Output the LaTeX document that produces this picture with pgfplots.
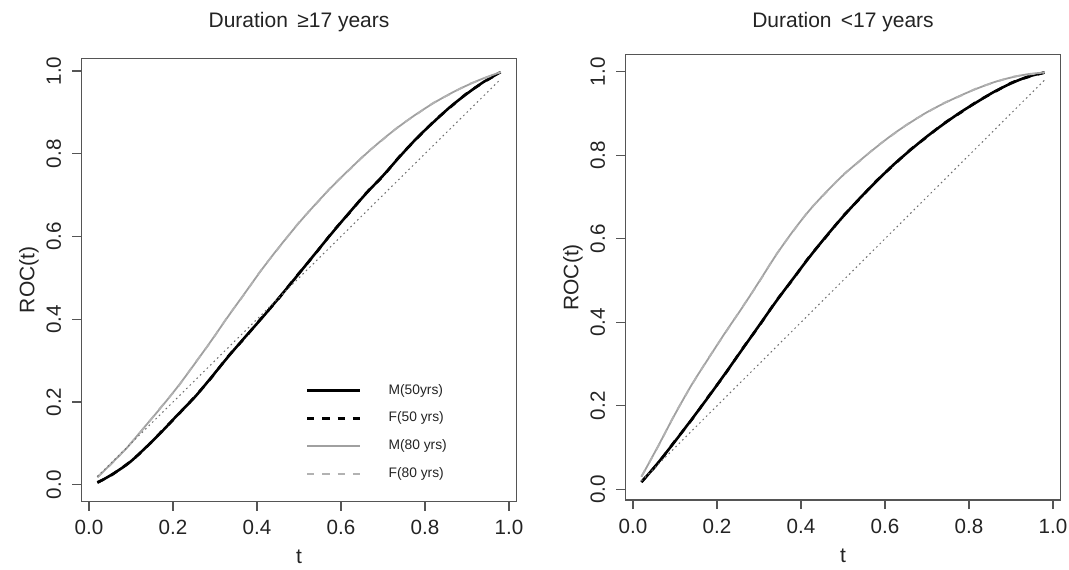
\documentclass[border=0pt]{standalone}
\usepackage{pgfplots}
\pgfplotsset{compat=1.18}
\usepackage{fontspec}
\setmainfont{Liberation Sans}
\definecolor{axcol}{RGB}{85,85,85}
\definecolor{txtcol}{RGB}{35,35,35}
\definecolor{grey80}{RGB}{160,160,160}
\definecolor{greyF80}{RGB}{178,178,178}
\definecolor{dotcol}{RGB}{110,110,110}
\pgfplotsset{
  rplot/.style={
    scale only axis, width=217.7pt,
    xmin=-0.0184, xmax=1.0184,
    axis line style={axcol, line width=0.6pt},
    tick style={axcol, line width=0.6pt},
    tick align=outside, major tick length=4.6pt,
    xtick pos=bottom, ytick pos=left,
    xtick={0,0.2,0.4,0.6,0.8,1}, ytick={0,0.2,0.4,0.6,0.8,1},
    xticklabels={0.0,0.2,0.4,0.6,0.8,1.0},
    yticklabels={0.0,0.2,0.4,0.6,0.8,1.0},
    ticklabel style={font=\fontsize{10.3}{12}\selectfont, text=txtcol},
    xticklabel style={anchor=base}, xticklabel shift=12.1pt,
    yticklabel style={rotate=90, anchor=base}, yticklabel shift=5.6pt,
    xlabel={t}, ylabel={ROC(t)},
    label style={font=\fontsize{10.5}{12}\selectfont, text=txtcol},
    xlabel style={at={(axis description cs:0.5,-0.1396)}, anchor=base},
    ylabel style={at={(axis description cs:-0.108,0.5)}, anchor=base},
    title style={font=\fontsize{10.5}{12}\selectfont, text=txtcol, anchor=base, at={(axis description cs:0.5,1)}},
    m50/.style={black, line width=1.3pt, smooth, tension=0.5},
    f50/.style={black, line width=1.3pt, dash pattern=on 3.6pt off 4pt, smooth, tension=0.5},
    m80/.style={grey80, line width=0.9pt, smooth, tension=0.5},
    f80/.style={greyF80, line width=0.9pt, dash pattern=on 3.6pt off 4pt, smooth, tension=0.5},
    diag/.style={dotcol, line width=0.5pt, dash pattern=on 0.8pt off 1.6pt},
  }
}
\begin{document}
\begin{tikzpicture}
\path[use as bounding box] (0,0) rectangle (534.5pt,284.5pt);
% ---------------- left panel ----------------
\begin{axis}[rplot, at={(40.65pt,33.85pt)}, anchor=south west, height=221.4pt,
  ymin=-0.040, ymax=1.030,
  title={Duration \,≥17 years}, title style={yshift=9.3pt},
  legend style={draw=none, fill=none, at={(0.516,0.281)}, anchor=north west,
    inner sep=0pt, outer sep=0pt, row sep=0pt,
    font=\fontsize{6.9}{8}\selectfont, text=txtcol,
    nodes={inner sep=0pt, minimum height=13.85pt},
    /tikz/every odd column/.append style={column sep=13.5pt}},
  legend image code/.code={\draw[#1] (0pt,0pt) -- (26.5pt,0pt);},
  legend cell align=left]
\addplot[m50] coordinates {(0.02,0.005) (0.05,0.022) (0.093,0.051) (0.13,0.085) (0.172,0.127) (0.21,0.168) (0.252,0.212) (0.29,0.258) (0.331,0.309) (0.37,0.355) (0.41,0.401) (0.45,0.449) (0.49,0.498) (0.538,0.558) (0.58,0.61) (0.621,0.659) (0.66,0.704) (0.701,0.748) (0.74,0.793) (0.78,0.837) (0.82,0.876) (0.86,0.913) (0.9,0.945) (0.939,0.973) (0.98,0.997)};
\addlegendentry{M(50yrs)}
\addplot[f50] coordinates {(0.02,0.006) (0.05,0.021) (0.093,0.052) (0.13,0.084) (0.172,0.128) (0.21,0.167) (0.252,0.213) (0.29,0.257) (0.331,0.310) (0.37,0.354) (0.41,0.402) (0.45,0.448) (0.49,0.499) (0.538,0.557) (0.58,0.611) (0.621,0.658) (0.66,0.705) (0.701,0.747) (0.74,0.794) (0.78,0.836) (0.82,0.877) (0.86,0.912) (0.9,0.946) (0.939,0.972) (0.98,0.997)};
\addlegendentry{F(50 yrs)}
\addplot[m80] coordinates {(0.02,0.018) (0.05,0.048) (0.09,0.089) (0.125,0.131) (0.17,0.185) (0.212,0.238) (0.25,0.290) (0.291,0.348) (0.33,0.405) (0.371,0.463) (0.41,0.518) (0.45,0.571) (0.5,0.633) (0.542,0.681) (0.58,0.722) (0.621,0.763) (0.66,0.800) (0.701,0.836) (0.74,0.867) (0.78,0.896) (0.82,0.922) (0.86,0.945) (0.9,0.965) (0.939,0.982) (0.98,0.997)};
\addlegendentry{M(80 yrs)}
\addplot[f80] coordinates {(0.02,0.019) (0.05,0.047) (0.09,0.090) (0.125,0.130) (0.17,0.186) (0.212,0.237) (0.25,0.291) (0.291,0.347) (0.33,0.406) (0.371,0.462) (0.41,0.519) (0.45,0.570) (0.5,0.634) (0.542,0.680) (0.58,0.723) (0.621,0.762) (0.66,0.801) (0.701,0.835) (0.74,0.868) (0.78,0.895) (0.82,0.923) (0.86,0.944) (0.9,0.966) (0.939,0.981) (0.98,0.997)};
\addlegendentry{F(80 yrs)}
\addplot[diag, forget plot] coordinates {(0.02,0.02) (0.98,0.98)};
\end{axis}
% ---------------- right panel ----------------
\begin{axis}[rplot, at={(312.65pt,34.5pt)}, anchor=south west, height=222.65pt,
  ymin=-0.0256, ymax=1.0407,
  title={Duration \,<17 years}, title style={yshift=7.4pt}]
\addplot[m50] coordinates {(0.02,0.017) (0.06,0.064) (0.10,0.115) (0.14,0.168) (0.18,0.222) (0.22,0.278) (0.26,0.335) (0.30,0.392) (0.34,0.449) (0.38,0.503) (0.42,0.556) (0.46,0.606) (0.50,0.653) (0.54,0.697) (0.58,0.738) (0.62,0.777) (0.66,0.812) (0.70,0.845) (0.74,0.875) (0.78,0.903) (0.82,0.928) (0.86,0.952) (0.90,0.972) (0.94,0.988) (0.98,0.998)};
\addplot[f50] coordinates {(0.02,0.018) (0.06,0.063) (0.10,0.116) (0.14,0.167) (0.18,0.223) (0.22,0.277) (0.26,0.336) (0.30,0.391) (0.34,0.450) (0.38,0.502) (0.42,0.557) (0.46,0.605) (0.50,0.654) (0.54,0.696) (0.58,0.739) (0.62,0.776) (0.66,0.813) (0.70,0.844) (0.74,0.876) (0.78,0.902) (0.82,0.929) (0.86,0.951) (0.90,0.973) (0.94,0.987) (0.98,0.998)};
\addplot[m80] coordinates {(0.02,0.030) (0.06,0.104) (0.10,0.180) (0.14,0.251) (0.18,0.314) (0.22,0.376) (0.26,0.435) (0.30,0.497) (0.34,0.560) (0.38,0.617) (0.42,0.668) (0.46,0.712) (0.50,0.752) (0.54,0.787) (0.58,0.820) (0.62,0.851) (0.66,0.878) (0.70,0.903) (0.74,0.924) (0.78,0.943) (0.82,0.960) (0.86,0.975) (0.90,0.986) (0.94,0.994) (0.98,0.998)};
\addplot[f80] coordinates {(0.02,0.031) (0.06,0.103) (0.10,0.181) (0.14,0.250) (0.18,0.315) (0.22,0.375) (0.26,0.436) (0.30,0.496) (0.34,0.561) (0.38,0.616) (0.42,0.669) (0.46,0.711) (0.50,0.753) (0.54,0.786) (0.58,0.821) (0.62,0.850) (0.66,0.879) (0.70,0.902) (0.74,0.925) (0.78,0.942) (0.82,0.961) (0.86,0.974) (0.90,0.987) (0.94,0.993) (0.98,0.998)};
\addplot[diag] coordinates {(0.02,0.02) (0.98,0.98)};
\end{axis}
\end{tikzpicture}
\end{document}
